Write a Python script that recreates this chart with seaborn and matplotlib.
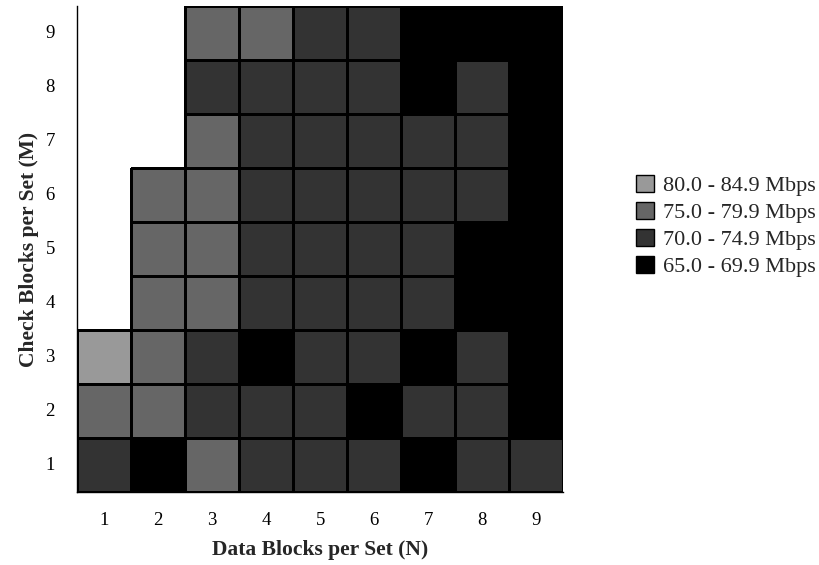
import numpy as np
import pandas as pd
import matplotlib
matplotlib.use("Agg")
import matplotlib.pyplot as plt
import seaborn as sns
from matplotlib.colors import ListedColormap
from matplotlib.patches import Patch

# Throughput bins: 0 = 65.0-69.9, 1 = 70.0-74.9, 2 = 75.0-79.9, 3 = 80.0-84.9 Mbps
n_values = [1, 2, 3, 4, 5, 6, 7, 8, 9]          # data blocks per set
m_values = [9, 8, 7, 6, 5, 4, 3, 2, 1]          # check blocks per set (top to bottom)
nan = np.nan
bins = [
    [nan, nan, 2, 2, 1, 1, 0, 0, 0],   # M=9
    [nan, nan, 1, 1, 1, 1, 0, 1, 0],   # M=8
    [nan, nan, 2, 1, 1, 1, 1, 1, 0],   # M=7
    [nan, 2, 2, 1, 1, 1, 1, 1, 0],     # M=6
    [nan, 2, 2, 1, 1, 1, 1, 0, 0],     # M=5
    [nan, 2, 2, 1, 1, 1, 1, 0, 0],     # M=4
    [3, 2, 1, 0, 1, 1, 0, 1, 0],       # M=3
    [2, 2, 1, 1, 1, 0, 1, 1, 0],       # M=2
    [1, 0, 2, 1, 1, 1, 0, 1, 1],       # M=1
]
bin_labels = ["65.0 - 69.9 Mbps", "70.0 - 74.9 Mbps", "75.0 - 79.9 Mbps", "80.0 - 84.9 Mbps"]
bin_colors = ["#000000", "#333333", "#666666", "#999999"]

sns.set_theme(style="white")
plt.rcParams["font.family"] = ["Liberation Serif", "DejaVu Serif"]

df = pd.DataFrame(bins, index=m_values, columns=n_values)

fig = plt.figure(figsize=(8.2, 5.65), dpi=100)
ax = fig.add_axes([0.094, 0.129, 0.593, 0.860])

sns.heatmap(df, ax=ax, cmap=ListedColormap(bin_colors), vmin=-0.5, vmax=3.5,
            cbar=False, linewidths=0.8, linecolor="black", square=False)

# no outlines for the empty (untested) cells
mesh = ax.collections[0]
empty = np.isnan(df.values).ravel()
edge = np.zeros((empty.size, 4))
edge[:, 3] = np.where(empty, 0.0, 1.0)
mesh.set_edgecolor(edge)

for side in ["left", "bottom"]:
    ax.spines[side].set_visible(True)
    ax.spines[side].set_color("black")
    ax.spines[side].set_linewidth(1.0)

ax.tick_params(axis="both", length=0, labelsize=13.5, colors="black")
ax.tick_params(axis="x", pad=14)
ax.tick_params(axis="y", pad=16)
ax.set_yticklabels(m_values, rotation=0)
ax.set_xticklabels(n_values, rotation=0)
ax.set_xlabel("Data Blocks per Set (N)", fontsize=15.5, fontweight="bold", labelpad=8)
ax.set_ylabel("Check Blocks per Set (M)", fontsize=15.5, fontweight="bold", labelpad=5)

handles = [Patch(facecolor=c, edgecolor="black", linewidth=1, label=l)
           for c, l in zip(bin_colors[::-1], bin_labels[::-1])]
fig.legend(handles=handles, loc="center left", bbox_to_anchor=(0.776, 0.6),
           frameon=False, fontsize=16, handlelength=0.8, handleheight=0.8,
           handletextpad=0.4, labelspacing=0.25, borderpad=0, borderaxespad=0)

fig.savefig("out.png", dpi=100)
